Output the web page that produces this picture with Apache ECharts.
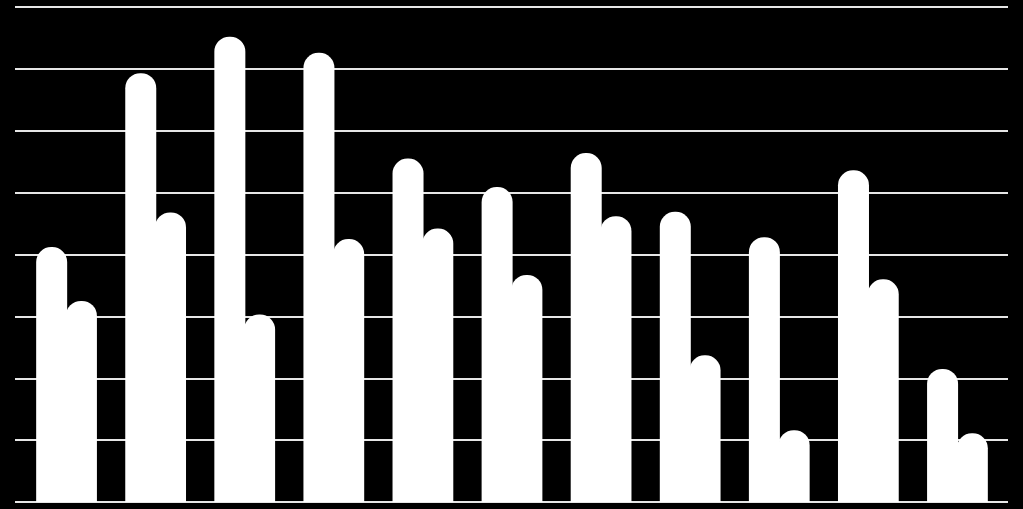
<!DOCTYPE html>
<html><head><meta charset="utf-8">
<script src="https://cdn.jsdelivr.net/npm/echarts@6/dist/echarts.min.js"></script>
<style>html,body{margin:0;padding:0;background:#000;}#c{width:1023px;height:509px;}</style>
</head><body><div id="c"></div>
<script>
const categories = ['1','2','3','4','5','6','7','8','9','10','11'];
const seriesA = [4.12, 6.93, 7.52, 7.26, 5.55, 5.09, 5.64, 4.69, 4.28, 5.36, 2.15];
const seriesB = [3.25, 4.68, 3.03, 4.25, 4.42, 3.67, 4.62, 2.37, 1.16, 3.60, 1.11];
const yTicks = { min: 0, max: 8, interval: 1 };

const chart = echarts.init(document.getElementById('c'));
const barStyle = { color: '#ffffff', borderRadius: [15, 15, 0, 0] };
chart.setOption({
  backgroundColor: '#000000',
  animation: false,
  grid: [
    { left: 15, right: 15, top: 7, bottom: 7 },
    { left: 22, right: 21, top: 7, bottom: 7 }
  ],
  xAxis: [
    { gridIndex: 0, type: 'category', data: categories, show: false },
    { gridIndex: 1, type: 'category', data: categories, show: false }
  ],
  yAxis: [
    { gridIndex: 0, type: 'value', min: yTicks.min, max: yTicks.max, interval: yTicks.interval,
      axisLabel: { show: false }, axisLine: { show: false }, axisTick: { show: false },
      splitLine: { show: true, lineStyle: { color: '#e6e6e6', width: 2 } } },
    { gridIndex: 1, type: 'value', min: yTicks.min, max: yTicks.max, interval: yTicks.interval,
      show: false, splitLine: { show: false } }
  ],
  series: [
    { type: 'bar', xAxisIndex: 1, yAxisIndex: 1, data: seriesA, barWidth: 31, barGap: '-4%', itemStyle: barStyle },
    { type: 'bar', xAxisIndex: 1, yAxisIndex: 1, data: seriesB, barWidth: 31, barGap: '-4%', itemStyle: barStyle }
  ]
});
</script>
</body></html>
